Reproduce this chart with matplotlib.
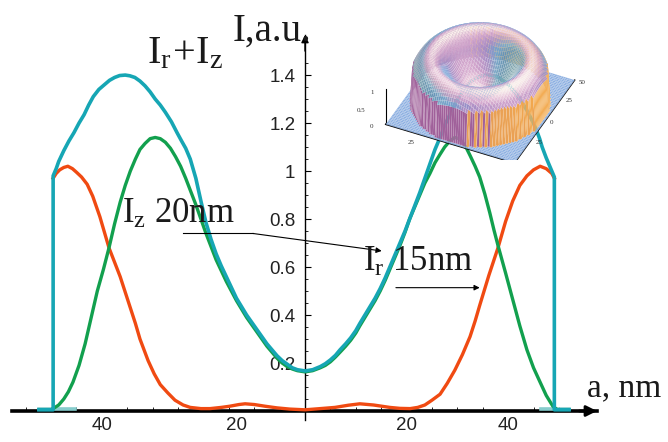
import numpy as np
import matplotlib.pyplot as plt
from matplotlib.colors import LinearSegmentedColormap, to_rgba
from matplotlib.patches import Rectangle

plt.rcParams['mathtext.fontset'] = 'custom'
plt.rcParams['mathtext.rm'] = 'Liberation Serif'
plt.rcParams['mathtext.it'] = 'Liberation Serif:italic'

# ---- data (x in nm, intensity in a.u.) ----
cyan_left_x = [-52.4, -49.6, -49.6, -49, -48.5, -47.5, -46.5, -45.5, -44.5, -43.5, -42.6, -41.7,
               -40.6, -39.5, -38.5, -37.5, -36.5, -35.4, -34.5, -33.5, -32.5, -31.5, -30.5, -29.5,
               -28.5, -27.5, -26.3, -25.2, -24.3, -23.5, -22.6, -21.5, -20.5, -19.5, -18.5, -17.5,
               -16.5, -15.5, -14.5, -13.5, -12.5, -11.5, -10.5, -9.5, -8.5, -7.5, -6.5, -5.5,
               -4.5, -3.5, -2.5, -1.5, 0]
cyan_left_y = [0.005, 0.005, 0.98, 1.01, 1.04, 1.085, 1.125, 1.16, 1.2, 1.235, 1.275, 1.31,
               1.34, 1.36, 1.378, 1.39, 1.398, 1.40, 1.397, 1.39, 1.375, 1.355, 1.33, 1.30,
               1.275, 1.245, 1.205, 1.16, 1.125, 1.095, 1.05, 0.97, 0.875, 0.785, 0.715, 0.655,
               0.605, 0.56, 0.515, 0.47, 0.435, 0.40, 0.37, 0.34, 0.31, 0.28, 0.255, 0.23,
               0.21, 0.195, 0.18, 0.172, 0.167]
cyan_right_x = [0, 1.5, 3, 4, 5, 6, 6.9, 8, 9, 10, 10.8, 11.8, 12.8, 13.8, 14.8, 15.8, 16.7,
                17.7, 18.7, 19.7, 20.6, 21.6, 22.6, 23.6, 24.6, 25.6, 26.6, 27.5, 28.5, 29.5,
                30.5, 31.5, 32.5, 33.5, 34.5, 35.5, 36.5, 37.5, 38.5, 39.5, 40.5, 41.5, 42.5,
                43.5, 44.5, 45.5, 46.2, 46.7, 47.5, 48.2, 48.8, 49.1, 49.1, 52]
cyan_right_y = [0.167, 0.172, 0.185, 0.197, 0.213, 0.232, 0.255, 0.28, 0.305, 0.335, 0.365, 0.40,
                0.435, 0.47, 0.51, 0.555, 0.60, 0.65, 0.70, 0.75, 0.80, 0.855, 0.91, 0.97,
                1.03, 1.09, 1.14, 1.19, 1.235, 1.28, 1.315, 1.345, 1.37, 1.385, 1.395, 1.40,
                1.40, 1.395, 1.385, 1.37, 1.35, 1.325, 1.295, 1.26, 1.22, 1.175, 1.135, 1.10,
                1.055, 1.02, 0.99, 0.975, 0.005, 0.005]

green_left_x = [-49.6, -48.5, -47.5, -46.6, -45.7, -44.5, -43.3, -42.1, -40.9, -39.7, -38.6,
                -37.5, -36.4, -35.4, -34.4, -33.4, -32.5, -31.5, -30.5, -29.5, -28.5, -27.5,
                -26.5, -25.5, -24.5, -23.5, -22.5, -21.5, -20.5, -19.5, -18.5, -17.5, -16.5,
                -15.5, -14.5, -13.5, -12.5, -11.5, -10.5, -9.5, -8.5, -7.5, -6.5, -5.5, -4.5,
                -3.5, -2.5, -1.5, 0]
green_left_y = [0.01, 0.025, 0.05, 0.08, 0.12, 0.19, 0.28, 0.39, 0.50, 0.59, 0.68,
                0.78, 0.87, 0.94, 1.0, 1.05, 1.09, 1.115, 1.135, 1.14, 1.135, 1.12,
                1.095, 1.06, 1.02, 0.97, 0.915, 0.86, 0.80, 0.74, 0.685, 0.63, 0.585,
                0.54, 0.50, 0.46, 0.425, 0.39, 0.36, 0.33, 0.30, 0.27, 0.245, 0.22, 0.20,
                0.185, 0.175, 0.168, 0.163]
green_right_x = [0, 1.5, 3, 4, 5, 6, 6.9, 8, 9, 10, 10.8, 11.8, 12.8, 13.8, 14.8, 15.8, 16.7,
                 17.7, 18.7, 19.7, 20.6, 21.6, 22.6, 23.6, 24.6, 25.6, 26.6, 27.5, 28.5, 29.5,
                 30.3, 31, 31.8, 32.5, 33.5, 34.4, 35.4, 36.4, 37.2, 38, 39.5, 40.9, 42.3,
                 43.7, 45, 46.3, 47.5, 48.8, 49.4]
green_right_y = [0.163, 0.168, 0.18, 0.19, 0.205, 0.225, 0.245, 0.27, 0.295, 0.325, 0.355, 0.39,
                 0.425, 0.46, 0.50, 0.545, 0.59, 0.64, 0.69, 0.745, 0.80, 0.85, 0.90, 0.95,
                 0.99, 1.035, 1.07, 1.10, 1.125, 1.14, 1.135, 1.12, 1.095, 1.065, 1.02, 0.975,
                 0.905, 0.825, 0.755, 0.69, 0.575, 0.465, 0.355, 0.255, 0.18, 0.12, 0.065,
                 0.02, 0.01]

red_left_x = [-49.6, -49, -48.3, -47.5, -46.7, -45.8, -45, -44, -42.9, -41.8, -40.4, -39.5,
              -38.6, -37.5, -36.4, -35.4, -34.4, -33.4, -32.5, -31.7, -30.9, -29.7, -28.5, -27,
              -25.6, -24, -22.6, -20.5, -18.7, -16.5, -14.8, -13, -11.8, -10, -7.9, -5.5, -3, 0]
red_left_y = [0.97, 0.99, 1.005, 1.015, 1.02, 1.01, 0.995, 0.975, 0.945, 0.895, 0.81, 0.745,
              0.68, 0.62, 0.56, 0.495, 0.43, 0.365, 0.30, 0.255, 0.21, 0.155, 0.11, 0.075,
              0.045, 0.025, 0.015, 0.01, 0.01, 0.015, 0.02, 0.027, 0.03, 0.027, 0.02, 0.013,
              0.008, 0.005]
red_right_x = [0, 3, 5.9, 8.5, 10.8, 13.5, 16.7, 18.7, 20.7, 22.2, 23.6, 25, 26.6, 28, 29.5,
               31, 32.5, 33.5, 34.4, 36.2, 38.0, 39.5, 40.9, 42.3, 43.7, 45, 46.3, 47.5, 48.6,
               49.1]
red_right_y = [0.005, 0.01, 0.015, 0.024, 0.03, 0.025, 0.015, 0.011, 0.01, 0.015, 0.025, 0.045,
               0.07, 0.115, 0.17, 0.235, 0.31, 0.375, 0.44, 0.565, 0.68, 0.79, 0.875, 0.94,
               0.98, 1.005, 1.02, 1.01, 0.99, 0.97]

stub_left_x = [-52.4, -45.3]
stub_right_x = [46.5, 52.0]
stub_y = [0.008, 0.008]

ytick_vals = [0.2, 0.4, 0.6, 0.8, 1.0, 1.2, 1.4]
ytick_labels = ['0.2', '0.4', '0.6', '0.8', '1', '1.2', '1.4']
xtick_label_pos = [-40, -13.4, 20, 40]
xtick_labels = ['40', '20', '20', '40']

# inset tick labels and where they sit (figure pixels from top-left)
inset_labels = ['1', '0.5', '0', '25', '50', '25', '0', '25']
inset_label_px = [(372, 92), (361, 111), (372, 126), (411, 142), (582, 82), (569, 101),
                  (552, 122), (539, 142)]

cyan_c = '#16a6b4'
green_c = '#12a04e'
red_c = '#f04a12'

fig = plt.figure(figsize=(6.68, 4.42), dpi=100)
ax = fig.add_axes([12 / 668, 22 / 442, 585 / 668, 385 / 442])
ax.set_xlim(-57.7, 57.5)
ax.set_ylim(-0.0375, 1.567)

ax.spines['top'].set_visible(False)
ax.spines['right'].set_visible(False)
ax.spines['left'].set_position(('data', 0))
ax.spines['bottom'].set_position(('data', 0))
ax.spines['bottom'].set_linewidth(2.6)
ax.spines['left'].set_linewidth(1.0)

# axis arrow heads
ax.annotate('', xy=(57.5, 0), xytext=(54, 0),
            arrowprops=dict(arrowstyle='-|>', color='k', lw=2.0, mutation_scale=16,
                            shrinkA=0, shrinkB=0))
ax.annotate('', xy=(0, 1.567), xytext=(0, 1.5),
            arrowprops=dict(arrowstyle='-|>', color='k', lw=1.0, mutation_scale=11,
                            shrinkA=0, shrinkB=0))

ax.set_yticks(ytick_vals, ytick_labels)
ax.set_yticks(np.arange(0.05, 1.5, 0.05), minor=True)
ax.set_xticks(xtick_label_pos, xtick_labels)
ax.set_xticks(np.arange(-55, 56, 5), minor=True)
ax.tick_params(axis='y', which='major', direction='in', length=4, width=0.8, pad=7,
               labelsize=13.5)
ax.tick_params(axis='y', which='minor', direction='in', length=2, width=0.6)
ax.tick_params(axis='x', which='major', length=0, pad=4, labelsize=13.5)
ax.tick_params(axis='x', which='minor', direction='in', length=3, width=0.6)
for lab in ax.get_xticklabels() + ax.get_yticklabels():
    lab.set_fontfamily('Liberation Sans')
    lab.set_color('#222222')

# curves
ax.plot(stub_left_x, stub_y, color='#86cccc', lw=2.6, zorder=3)
ax.plot(stub_right_x, stub_y, color='#86cccc', lw=2.6, zorder=3)
ax.plot(red_left_x + red_right_x[1:], red_left_y + red_right_y[1:], color=red_c, lw=2.4,
        zorder=3, solid_joinstyle='round')
ax.plot(green_left_x + green_right_x[1:], green_left_y + green_right_y[1:], color=green_c,
        lw=2.4, zorder=3, solid_joinstyle='round')
ax.plot(cyan_left_x + cyan_right_x[1:], cyan_left_y + cyan_right_y[1:], color=cyan_c,
        lw=2.6, zorder=3.2, solid_joinstyle='round')

# annotation lines
ax.plot([-24.1, -10.3], [0.740, 0.740], color='k', lw=0.8, zorder=4)
ax.annotate('', xy=(15.1, 0.667), xytext=(-10.3, 0.740),
            arrowprops=dict(arrowstyle='-|>', color='k', lw=0.8, mutation_scale=8,
                            shrinkA=0, shrinkB=0), zorder=4)
ax.annotate('', xy=(34.4, 0.514), xytext=(17.9, 0.514),
            arrowprops=dict(arrowstyle='-|>', color='k', lw=0.8, mutation_scale=8,
                            shrinkA=0, shrinkB=0), zorder=4)

serif = dict(fontfamily='Liberation Serif', color='#1a1a1a', zorder=5)
ax.text(-31.1, 1.45, r'$\mathrm{I_r\!+\!I_z}$', fontsize=29, **serif)
ax.text(-14.2, 1.543, 'I,a.u.', fontsize=28, **serif)
ax.text(-36.1, 0.782, r'$\mathrm{I_z}$ 20nm', fontsize=25, **serif)
ax.text(11.5, 0.585, r'$\mathrm{I_r}$ 15nm', fontsize=25, **serif)
ax.text(55.5, 0.0625, 'a, nm', fontsize=24, clip_on=False, **serif)

# ---- inset: 3D picture of the ring intensity ----
edge_r = 49.1
prof_x = np.array(cyan_right_x[:-2])
prof_y = np.array(cyan_right_y[:-2])
lim = 51.0
g = np.linspace(-lim, lim, 61)
X, Y = np.meshgrid(g, g)
R = np.hypot(X, Y)
Z = np.where(R <= edge_r, np.interp(R, prof_x, prof_y), 0.0)

elev, azim = 40, -65
zmax, za = 1.45, 0.43
k = (g[-1] - g[0]) / zmax * za
e, a = np.radians(elev), np.radians(azim)
eye = np.array([np.cos(e) * np.cos(a), np.cos(e) * np.sin(a), np.sin(e)])
rgt = np.array([-np.sin(a), np.cos(a), 0.0])
up = np.array([-np.sin(e) * np.cos(a), -np.sin(e) * np.sin(a), np.cos(e)])

dx = g[1] - g[0]
gx = ((Z[:-1, 1:] + Z[1:, 1:]) - (Z[:-1, :-1] + Z[1:, :-1])) / (2 * dx)
gy = ((Z[1:, :-1] + Z[1:, 1:]) - (Z[:-1, :-1] + Z[:-1, 1:])) / (2 * dx)
nx, ny, nz = -gx * k, -gy * k, np.ones_like(gx)
nn = np.sqrt(nx ** 2 + ny ** 2 + nz ** 2)
nx, ny, nz = nx / nn, ny / nn, nz / nn
inside = (R <= edge_r).astype(int)
cnt = inside[:-1, :-1] + inside[1:, :-1] + inside[:-1, 1:] + inside[1:, 1:]

top_cmap = LinearSegmentedColormap.from_list(
    'top', ['#2a66b8', '#5f93d2', '#a68cc4', '#cfa2cb', '#e9c8dc', '#faf1ec'])
L = eye + 0.6 * up + 0.25 * rgt
L = L / np.linalg.norm(L)
b = nx * L[0] + ny * L[1] + nz * L[2]
side = nx * rgt[0] + ny * rgt[1]
fc = top_cmap(np.clip((b - 0.5) / 0.5, 0, 1))
# yellow-green tint on slopes facing left
tint = np.clip(-side - 0.2, 0, 1)[..., None] * 0.7
fc[..., :3] = fc[..., :3] * (1 - tint) + np.array(to_rgba('#e6f2a6')[:3]) * tint
purple = np.array(to_rgba('#a0609a'))
orange = np.array(to_rgba('#f3a94c'))
wall = (cnt > 0) & (cnt < 4)
tw = np.clip(0.35 + side * 1.6, 0, 1)[..., None]
wall_c = purple * (1 - tw) + orange * tw
fc[wall] = wall_c[wall]
fc[cnt == 0] = to_rgba('#8db0e2')
face = np.zeros(Z.shape + (4,))
face[:-1, :-1] = fc

# square 3D panel, clipped to the inset rectangle
ax3 = fig.add_axes([357 / 668, 1 - 202 / 442, 240 / 668, 240 / 442], projection='3d',
                   proj_type='ortho')
ax3.set_axis_off()
ax3.set_facecolor((1, 1, 1, 0))
clip = Rectangle((352 / 668, 1 - 160 / 442), 250 / 668, 160 / 442,
                 transform=fig.transFigure, fill=False, visible=False)
fig.add_artist(clip)
surf = ax3.plot_surface(X, Y, Z, facecolors=face, rstride=1, cstride=1, shade=False,
                        linewidth=0.15, edgecolor=(1, 1, 1, 0.3), antialiased=True)
surf.set_clip_path(clip)
edges = [ax3.plot([-lim, lim], [-lim, -lim], [0, 0], color='k', lw=1.2)[0],
         ax3.plot([lim, lim], [-lim, lim], [0, 0], color='k', lw=1.0)[0],
         ax3.plot([-lim, -lim], [-lim, -lim], [0, 1.1], color='k', lw=0.8)[0]]
for ln in edges:
    ln.set_clip_path(clip)
ax3.set_xlim(-lim, lim)
ax3.set_ylim(-lim, lim)
ax3.set_zlim(0, zmax)
ax3.set_box_aspect((1, 1, za), zoom=0.85)
ax3.view_init(elev=elev, azim=azim)

for txt, (px, py) in zip(inset_labels, inset_label_px):
    fig.text(px / 668, 1 - py / 442, txt, fontsize=5, fontfamily='Liberation Serif',
             color='#333333', ha='center', va='center')

fig.savefig('out.png', dpi=100)
